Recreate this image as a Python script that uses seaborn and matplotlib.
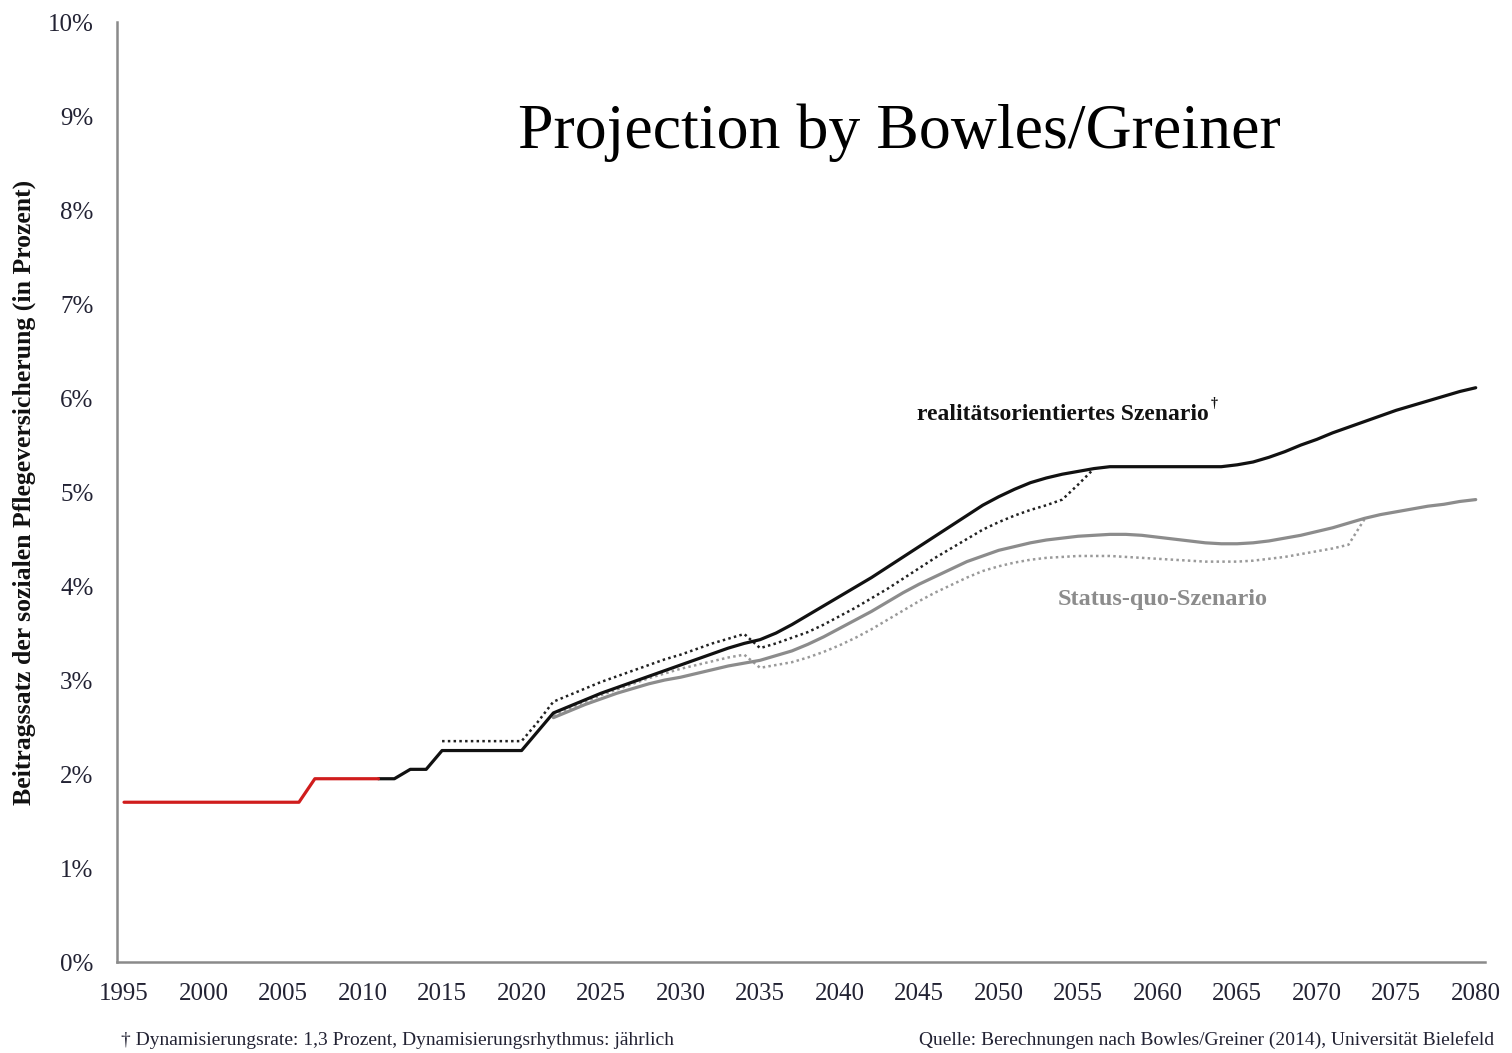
import matplotlib
matplotlib.use("Agg")
import matplotlib.pyplot as plt
import seaborn as sns
import pandas as pd

sns.set_style("white")
plt.rcParams["font.family"] = ["Liberation Serif", "DejaVu Serif"]

# Historical contribution rate (red)
years_hist = list(range(1995, 2012))
rate_hist = [1.7, 1.7, 1.7, 1.7, 1.7, 1.7, 1.7, 1.7, 1.7, 1.7, 1.7, 1.7,
             1.95, 1.95, 1.95, 1.95, 1.95]

# Realistic scenario (black, solid)
years_real = list(range(2011, 2081))
rate_real = [1.95, 1.95, 2.05, 2.05, 2.25, 2.25, 2.25, 2.25, 2.25, 2.25,
             2.45, 2.65, 2.72, 2.79, 2.86, 2.92, 2.98, 3.04, 3.10, 3.16,
             3.22, 3.28, 3.34, 3.39, 3.43, 3.50, 3.59, 3.69, 3.79, 3.89,
             3.99, 4.09, 4.20, 4.31, 4.42, 4.53, 4.64, 4.75, 4.86, 4.95,
             5.03, 5.10, 5.15, 5.19, 5.22, 5.25, 5.27, 5.27, 5.27, 5.27,
             5.27, 5.27, 5.27, 5.27, 5.29, 5.32, 5.37, 5.43, 5.50, 5.56,
             5.63, 5.69, 5.75, 5.81, 5.87, 5.92, 5.97, 6.02, 6.07, 6.11]

# Realistic scenario, stepwise variant (black, dotted)
years_real_dot = list(range(2015, 2057))
rate_real_dot = [2.35, 2.35, 2.35, 2.35, 2.35, 2.35, 2.55, 2.77, 2.84, 2.91,
                 2.98, 3.04, 3.10, 3.16, 3.22, 3.27, 3.33, 3.39, 3.44, 3.49,
                 3.34, 3.39, 3.45, 3.51, 3.59, 3.68, 3.77, 3.87, 3.97, 4.08,
                 4.19, 4.30, 4.40, 4.50, 4.60, 4.68, 4.75, 4.81, 4.86, 4.92,
                 5.08, 5.25]

# Status-quo scenario (grey, solid)
years_sq = list(range(2022, 2081))
rate_sq = [2.60, 2.67, 2.74, 2.80, 2.86, 2.91, 2.96, 3.00, 3.03, 3.07,
           3.11, 3.15, 3.18, 3.21, 3.26, 3.31, 3.38, 3.46, 3.55, 3.64,
           3.73, 3.83, 3.93, 4.02, 4.10, 4.18, 4.26, 4.32, 4.38, 4.42,
           4.46, 4.49, 4.51, 4.53, 4.54, 4.55, 4.55, 4.54, 4.52, 4.50,
           4.48, 4.46, 4.45, 4.45, 4.46, 4.48, 4.51, 4.54, 4.58, 4.62,
           4.67, 4.72, 4.76, 4.79, 4.82, 4.85, 4.87, 4.90, 4.92]

# Status-quo scenario, stepwise variant (grey, dotted)
years_sq_dot = list(range(2022, 2074))
rate_sq_dot = [2.62, 2.70, 2.77, 2.84, 2.90, 2.96, 3.02, 3.07, 3.12, 3.16,
               3.20, 3.24, 3.27, 3.13, 3.16, 3.19, 3.24, 3.30, 3.37, 3.45,
               3.54, 3.64, 3.74, 3.84, 3.93, 4.01, 4.09, 4.16, 4.21, 4.25,
               4.28, 4.30, 4.31, 4.32, 4.32, 4.32, 4.31, 4.30, 4.29, 4.28,
               4.27, 4.26, 4.26, 4.26, 4.27, 4.29, 4.31, 4.34, 4.37, 4.40,
               4.44, 4.71]

x_ticks = list(range(1995, 2081, 5))
y_ticks = list(range(0, 11))
y_tick_labels = [f"{v}%" for v in y_ticks]

fig = plt.figure(figsize=(15.12, 10.53), dpi=100)
ax = fig.add_axes([0.0774, 0.0864, 0.9046, 0.8926])

sns.lineplot(x=years_sq_dot, y=rate_sq_dot, ax=ax, color="#9a9a9a",
             linewidth=1.8, linestyle=(0, (1, 1.3)))
sns.lineplot(x=years_sq, y=rate_sq, ax=ax, color="#8c8c8c", linewidth=2.3)
sns.lineplot(x=years_real_dot, y=rate_real_dot, ax=ax, color="#222222",
             linewidth=1.8, linestyle=(0, (1, 1.3)))
sns.lineplot(x=years_real, y=rate_real, ax=ax, color="#111111", linewidth=2.3)
sns.lineplot(x=years_hist, y=rate_hist, ax=ax, color="#d01c1c", linewidth=2.3)

ax.set_xlim(1994.56, 2080.57)
ax.set_ylim(0, 10)
ax.set_xticks(x_ticks)
ax.set_yticks(y_ticks)
ax.set_yticklabels(y_tick_labels)
ax.tick_params(axis="both", length=0, labelsize=18, labelcolor="#222233")
ax.tick_params(axis="y", pad=17)
ax.tick_params(axis="x", pad=15)

for side in ["top", "right"]:
    ax.spines[side].set_visible(False)
for side in ["left", "bottom"]:
    ax.spines[side].set_color("#8a8a8a")
    ax.spines[side].set_linewidth(1.8)

ax.set_ylabel("Beitragssatz der sozialen Pflegeversicherung (in Prozent)",
              fontsize=18.5, fontweight="bold", color="#111111")
ax.yaxis.set_label_coords(-0.059, 0.5)

fig.text(0.595, 0.874, "Projection by Bowles/Greiner", fontsize=46,
         ha="center", va="center", color="black")

ax.text(2063.2, 5.82, "realitätsorientiertes Szenario", fontsize=17,
        fontweight="bold", ha="right", va="center", color="#111111")
ax.text(2063.3, 5.94, "†", fontsize=10, fontweight="bold",
        ha="left", va="center", color="#111111")
ax.text(2053.7, 3.86, "Status-quo-Szenario", fontsize=17.5,
        fontweight="bold", ha="left", va="center", color="#8c8c8c")

fig.text(0.080, 0.004, "† Dynamisierungsrate: 1,3 Prozent, Dynamisierungsrhythmus: jährlich",
         fontsize=14, ha="left", va="bottom", color="#222233")
fig.text(0.988, 0.004, "Quelle: Berechnungen nach Bowles/Greiner (2014), Universität Bielefeld",
         fontsize=14, ha="right", va="bottom", color="#222233")

fig.savefig("out.png", dpi=100, facecolor="white")
